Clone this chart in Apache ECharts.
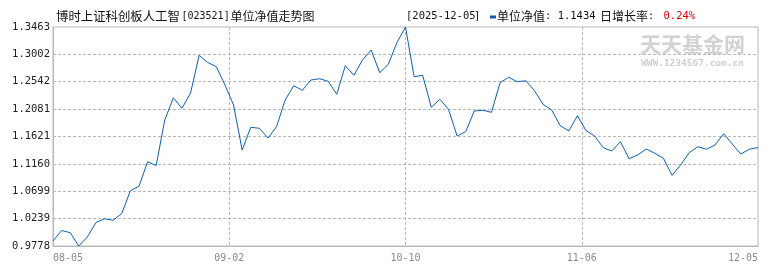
<!DOCTYPE html>
<html>
<head>
<meta charset="utf-8">
<script src="https://cdn.jsdelivr.net/npm/echarts@6/dist/echarts.min.js"></script>
<style>
html,body{margin:0;padding:0;background:#fff;}
#chart{width:770px;height:270px;}
</style>
</head>
<body>
<div id="chart"></div>
<script>
// Unit NAV, one value per trading day (08-05 .. 12-05)
var navValues = [
  0.9862, 1.0039, 1.0002, 0.9778, 0.9930, 1.0174, 1.0237, 1.0211, 1.0325, 1.0709,
  1.0783, 1.1195, 1.1133, 1.1898, 1.2272, 1.2095, 1.2353, 1.2987, 1.2866, 1.2795,
  1.2487, 1.2151, 1.1393, 1.1775, 1.1759, 1.1595, 1.1785, 1.2235, 1.2475, 1.2398,
  1.2571, 1.2593, 1.2549, 1.2331, 1.2812, 1.2650, 1.2908, 1.3076, 1.2694, 1.2835,
  1.3199, 1.3463, 1.2627, 1.2650, 1.2112, 1.2247, 1.2078, 1.1629, 1.1701, 1.2050,
  1.2061, 1.2028, 1.2526, 1.2617, 1.2543, 1.2559, 1.2391, 1.2162, 1.2066, 1.1802,
  1.1713, 1.1971, 1.1718, 1.1629, 1.1432, 1.1377, 1.1533, 1.1247, 1.1309, 1.1410,
  1.1338, 1.1254, 1.0968, 1.1141, 1.1348, 1.1449, 1.1405, 1.1478, 1.1668, 1.1494,
  1.1326, 1.1407, 1.1434
];
var xTickLabels = ["08-05", "09-02", "10-10", "11-06", "12-05"];
var yTickLabels = ["0.9778", "1.0239", "1.0699", "1.1160", "1.1621", "1.2081", "1.2542", "1.3002", "1.3463"];
var titleName = "博时上证科创板人工智";
var titleCode = "[023521]";
var titleTail = "单位净值走势图";
var headerDate = "[2025-12-05";
var headerNavLabel = "单位净值";
var headerNavValue = ": 1.1434";
var headerRateLabel = "日增长率";
var headerRateValue = "0.24%";

var yMin = 0.9778, yMax = 1.3463;
var yInterval = (yMax - yMin) / (yTickLabels.length - 1);
var xMax = navValues.length - 1;
var xInterval = xMax / (xTickLabels.length - 1);

var CJK = '"Noto Sans CJK SC", sans-serif';
var MONO = '"DejaVu Sans Mono", "Noto Sans CJK SC", monospace';
var lineColor = '#0b5fb3';

var chart = echarts.init(document.getElementById('chart'), null, {renderer: 'canvas'});
chart.setOption({
  animation: false,
  backgroundColor: '#fff',
  grid: {
    left: 53, right: 12, top: 27, bottom: 24,
    show: true, borderColor: '#b8b8b8', borderWidth: 1, backgroundColor: 'transparent'
  },
  xAxis: {
    type: 'value', min: 0, max: xMax, interval: xInterval,
    axisLine: {show: true, lineStyle: {color: '#b8b8b8', width: 1}},
    axisTick: {show: false},
    axisLabel: {
      color: '#8a8a8a', fontFamily: MONO, fontSize: 10, margin: 7,
      alignMinLabel: 'left', alignMaxLabel: 'right',
      formatter: function (v) { return xTickLabels[Math.round(v / xInterval)] || ''; }
    },
    splitLine: {show: true, showMinLine: false, showMaxLine: false,
      lineStyle: {color: '#b8b8b8', type: [3, 2], width: 1}}
  },
  yAxis: {
    type: 'value', min: yMin, max: yMax, interval: yInterval,
    axisLine: {show: true, lineStyle: {color: '#b8b8b8', width: 1}},
    axisTick: {show: false},
    axisLabel: {
      color: '#222', fontFamily: MONO, fontSize: 10.5, margin: 3,
      formatter: function (v) { return yTickLabels[Math.round((v - yMin) / yInterval)] || ''; }
    },
    splitLine: {show: true, showMinLine: false, showMaxLine: false,
      lineStyle: {color: '#b8b8b8', type: [3, 2], width: 1}}
  },
  series: [{
    type: 'line',
    data: navValues.map(function (v, i) { return [i, v]; }),
    showSymbol: false,
    lineStyle: {color: lineColor, width: 1},
    itemStyle: {color: lineColor},
    z: 5
  }],
  graphic: [
    {type: 'text', left: 640, top: 34, z: 0, silent: true,
      style: {text: '天天基金网', fill: '#d2d2d2', font: 'bold 21px ' + CJK}},
    {type: 'text', left: 641, top: 59, z: 0, silent: true,
      style: {text: 'WWW.1234567.com.cn', fill: '#cfcfcf', font: 'bold 9.5px "DejaVu Sans Mono", monospace'}},
    {type: 'text', x: 56, y: 16, style: {text: titleName, fill: '#111', font: '12.4px ' + CJK, textVerticalAlign: 'middle'}},
    {type: 'text', x: 181.5, y: 16.5, style: {text: titleCode, fill: '#111', font: '10px ' + MONO, textVerticalAlign: 'middle'}},
    {type: 'text', x: 230.5, y: 16, style: {text: titleTail, fill: '#111', font: '12px ' + CJK, textVerticalAlign: 'middle'}},
    {type: 'text', x: 406, y: 16.5, style: {text: headerDate, fill: '#111', font: '10.5px ' + MONO, textVerticalAlign: 'middle'}},
    {type: 'text', x: 474, y: 16.5, style: {text: ']', fill: '#111', font: '10.5px ' + MONO, textVerticalAlign: 'middle'}},
    {type: 'rect', shape: {x: 490, y: 15.5, width: 6, height: 3}, style: {fill: lineColor}},
    {type: 'text', x: 497, y: 16, style: {text: headerNavLabel, fill: '#111', font: '12px ' + CJK, textVerticalAlign: 'middle'}},
    {type: 'text', x: 545, y: 16.5, style: {text: headerNavValue, fill: '#111', font: '10.5px ' + MONO, textVerticalAlign: 'middle'}},
    {type: 'text', x: 600, y: 16, style: {text: headerRateLabel, fill: '#111', font: '12px ' + CJK, textVerticalAlign: 'middle'}},
    {type: 'text', x: 648, y: 16.5, style: {text: ':', fill: '#111', font: '10.5px ' + MONO, textVerticalAlign: 'middle'}},
    {type: 'text', x: 663.5, y: 16.5, style: {text: headerRateValue, fill: '#d40000', font: '10.5px ' + MONO, textVerticalAlign: 'middle'}}
  ]
});
</script>
</body>
</html>
